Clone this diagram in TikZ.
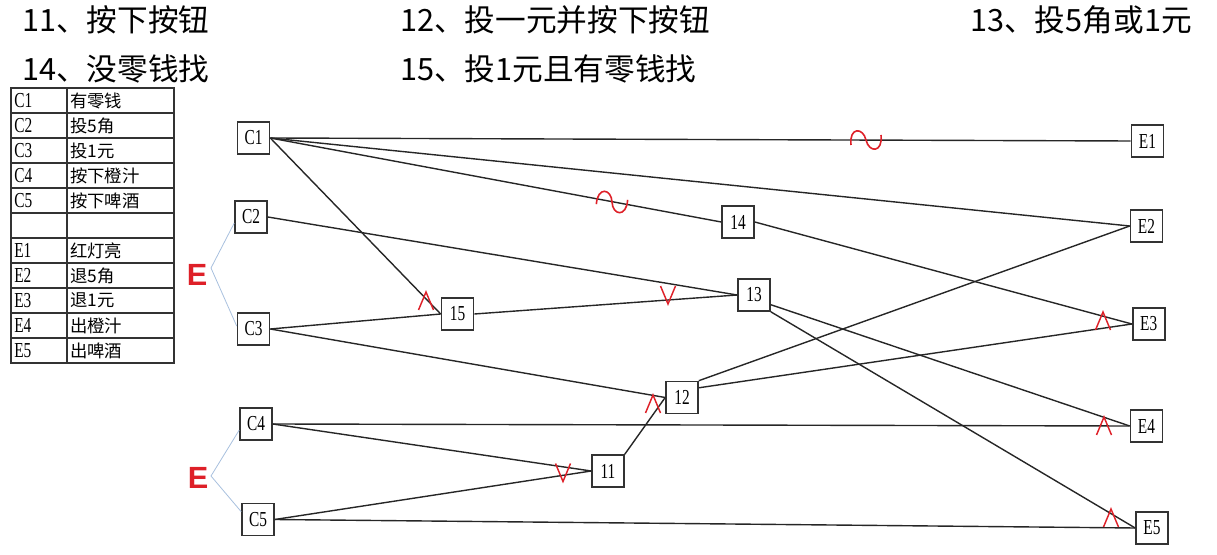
\documentclass[tikz,border=0pt]{standalone}
\usepackage{fontspec}
\setmainfont{Liberation Serif}
\newfontfamily\cjk{Noto Sans CJK SC}
\newfontfamily\boxfont[FakeStretch=0.72]{Liberation Serif}
\newfontfamily\markfont{Liberation Sans}
\definecolor{markred}{RGB}{222,32,40}
\definecolor{bracketblue}{RGB}{168,192,222}

\begin{document}
\begin{tikzpicture}[x=0.75pt, y=-0.75pt,
        box/.style={draw=black!80, line width=1.2pt, minimum width=24pt, minimum height=24pt, inner sep=1pt, font=\boxfont\fontsize{16}{16}\selectfont},
        link/.style={draw=black!85, line width=1.05pt},
        title/.style={anchor=west, inner sep=0pt, font=\cjk\fontsize{23}{23}\selectfont},
        cell/.style={anchor=west, inner sep=0pt},
        grp/.style={text=markred, font=\markfont\bfseries\fontsize{23}{23}\selectfont},
        bracket/.style={draw=bracketblue, line width=0.6pt},
        andmark/.pic={\draw[markred, line width=1.1pt] (-7.5,9) -- (0,-9) -- (7.5,9);},
        ormark/.pic={\draw[markred, line width=1.1pt] (-7.5,-9) -- (0,9) -- (7.5,-9);},
        notmark/.pic={\draw[markred, line width=1.2pt] (-15,5) .. controls (-17,-13) and (-3,-13) .. (0,0) .. controls (3,13) and (17,13) .. (15,-5);}]
        \useasboundingbox (0,0) rectangle (1217,555);

        % legend of the middle nodes
        \node[title] (t11) at (22,20) {11、按下按钮};
        \node[title] (t12) at (400,20) {12、投一元并按下按钮};
        \node[title] (t13) at (970,20) {13、投5角或1元};
        \node[title] (t14) at (22,69) {14、没零钱找};
        \node[title] (t15) at (400,69) {15、投1元且有零钱找};

        % cause / effect table
        \draw[black!80, line width=0.9pt] (11,88) rectangle (174,363);
        \draw[black!80, line width=0.9pt] (67,88) -- (67,363);
        \foreach \y in {113,138,...,338}
            \draw[black!80, line width=0.9pt] (11,\y) -- (174,\y);
        \foreach \code/\desc [count=\i] in {C1/有零钱, C2/投5角, C3/投1元, C4/按下橙汁, C5/按下啤酒, {}/{}, E1/红灯亮, E2/退5角, E3/退1元, E4/出橙汁, E5/出啤酒} {
            \node[cell, font=\boxfont\fontsize{16}{16}\selectfont] (code\i) at (14,{75.5+25*\i}) {\code};
            \node[cell, font=\cjk\fontsize{13}{13}\selectfont] (desc\i) at (70,{75.5+25*\i}) {\desc};
        }

        % causes
        \node[box] (c1) at (253.5,138) {C1};
        \node[box] (c2) at (251,217) {C2};
        \node[box] (c3) at (253.5,329) {C3};
        \node[box] (c4) at (256,424) {C4};
        \node[box] (c5) at (258,519.5) {C5};

        % middle nodes
        \node[box] (n14) at (738,222) {14};
        \node[box] (n13) at (754,295) {13};
        \node[box] (n15) at (457.5,314) {15};
        \node[box] (n12) at (682,397.5) {12};
        \node[box] (n11) at (608,471) {11};

        % effects
        \node[box] (e1) at (1147.5,141) {E1};
        \node[box] (e2) at (1146.5,226) {E2};
        \node[box] (e3) at (1148.7,324) {E3};
        \node[box] (e4) at (1146.5,426) {E4};
        \node[box] (e5) at (1152,528) {E5};

        % constraints
        \node[grp] (g1) at (197,275) {E};
        \node[grp] (g2) at (198,478) {E};
        \coordinate (v1) at (211,268);
        \coordinate (v2) at (211,476);
        \draw[bracket] (c2.200) -- (v1) -- (c3.170);
        \draw[bracket] (c4.200) -- (v2) -- (c5.155);

        \draw[link] (c1.east) -- (e1.west);
        \draw[link] (c1.east) -- (e2.west);
        \draw[link] (c1.east) -- (n14.west);
        \draw[link] (c1.east) -- (n15.west);
        \draw[link] (c2.east) -- (n13.west);
        \draw[link] (c3.east) -- (n15.west);
        \draw[link] (c3.east) -- (n12.west);
        \draw[link] (n15.east) -- (n13.west);
        \draw[link] (n14.east) -- (e3.west);
        \draw[link] (n13.-30) -- (e4.west);
        \draw[link] (n13.south east) -- (e5.west);
        \draw[link] (n12.north east) -- (e2.west);
        \draw[link] (n12.30) -- (e3.west);
        \draw[link] (n11.north east) -- (n12.west);
        \draw[link] (c4.east) -- (e4.west);
        \draw[link] (c4.east) -- (n11.west);
        \draw[link] (c5.east) -- (n11.west);
        \draw[link] (c5.east) -- (e5.west);

        % logic marks
        \pic at (866,140) {notmark};
        \pic[rotate=-10.5] at (612,202) {notmark};
        \pic at (426,301) {andmark};
        \pic at (668,295) {ormark};
        \pic at (653,404) {andmark};
        \pic at (563,472.5) {ormark};
        \pic at (1103,321) {andmark};
        \pic at (1104,426) {andmark};
        \pic at (1111,518) {andmark};
    \end{tikzpicture}
\end{document}
